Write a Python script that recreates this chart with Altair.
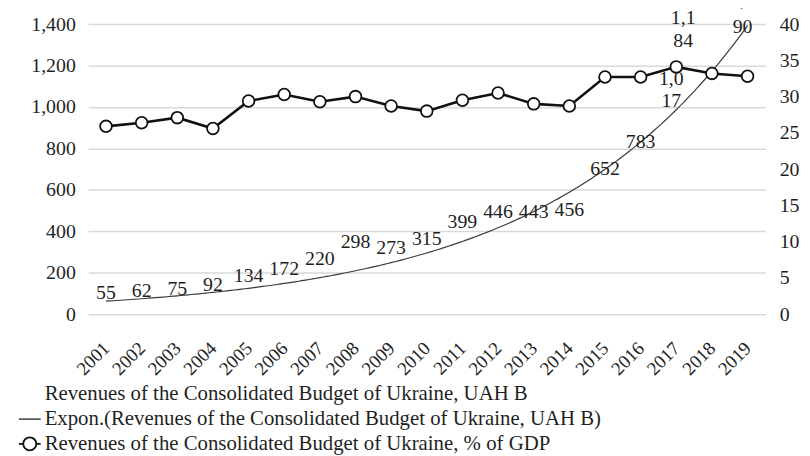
import altair as alt
import numpy as np
import pandas as pd

# ---- data ----
years = list(range(2001, 2020))
revenue_uah_b = [55, 62, 75, 92, 134, 172, 220, 298, 273, 315, 399, 446, 443, 456, 652, 783, 1017, 1184, 1290]
revenue_pct_gdp = [25.9, 26.4, 27.1, 25.6, 29.4, 30.3, 29.3, 30.0, 28.7, 28.0, 29.5, 30.5, 29.0, 28.7,
                   32.7, 32.7, 34.1, 33.2, 32.8]
left_ticks = [0, 200, 400, 600, 800, 1000, 1200, 1400]
right_ticks = [0, 5, 10, 15, 20, 25, 30, 35, 40]

S1 = "Revenues of the Consolidated Budget of Ukraine, UAH B"
S2 = "Expon.(Revenues of the Consolidated Budget of Ukraine, UAH B)"
S3 = "Revenues of the Consolidated Budget of Ukraine, % of GDP"

FONT = "Liberation Serif, Times New Roman, DejaVu Serif, serif"
TEXT = "#1f1f1f"


def wrap(v):
    s = f"{v:,}"
    return s if len(s) <= 3 else s[:3] + "\n" + s[3:]


df = pd.DataFrame({"year": years, "rev": revenue_uah_b, "pct": revenue_pct_gdp,
                   "label": [wrap(v) for v in revenue_uah_b]})
df_rev = df.assign(series=S1)
df_pct = df.assign(series=S3)

# exponential trend line (least squares on log values, as a spreadsheet does)
t = np.array(years, dtype=float) - 2000
b, a = np.polyfit(t, np.log(revenue_uah_b), 1)
tt = np.linspace(t[0], t[-1], 181)
df_trend = pd.DataFrame({"year": tt + 2000, "trend": np.exp(a + b * tt), "series": S2})

CIRCLE_LINE = "M-1,0L-0.6,0M0.6,0L1,0M0.6,0A0.6,0.6,0,1,1,-0.6,0A0.6,0.6,0,1,1,0.6,0"
LEG_X = -71
LEG_Y = 362
ROW = 25


def legend(i, **kw):
    return alt.Legend(title=None, orient="none", legendX=LEG_X, legendY=LEG_Y + i * ROW,
                      direction="vertical", labelFont=FONT, labelFontSize=21, labelColor=TEXT,
                      labelLimit=900, symbolSize=484, labelOffset=3, **kw)


def X():
    return alt.X("year:Q", scale=alt.Scale(domain=[2000.5, 2019.5], nice=False, zero=False),
                 axis=alt.Axis(values=years, format="d", labelAngle=-45, labelAlign="right",
                               labelBaseline="middle", labelPadding=31, labelOffset=0,
                               labelOverlap=False, labelFlush=False, grid=False, ticks=False,
                               domain=False, labelFont=FONT, labelFontSize=19, labelColor=TEXT,
                               title=None))


def YL(field):
    return alt.Y(f"{field}:Q", scale=alt.Scale(domain=[0, 1400], nice=False, zero=True),
                 axis=alt.Axis(values=left_ticks, format=",.0f", grid=True, gridColor="#d9d9d9",
                               gridWidth=1.5, ticks=False, domain=False, labelPadding=13,
                               labelFont=FONT, labelFontSize=20, labelColor=TEXT, title=None))


C_REV = alt.Color("series:N", scale=alt.Scale(domain=[S1], range=[TEXT]),
                  legend=legend(0, symbolOpacity=0, symbolType="circle"))
C_TREND = alt.Color("series:N", scale=alt.Scale(domain=[S2], range=["#3a3a3a"]),
                    legend=legend(1, symbolType="stroke", symbolStrokeWidth=1.5))
C_PCT = alt.Color("series:N", scale=alt.Scale(domain=[S3], range=["#111111"]),
                  legend=legend(2, symbolType=CIRCLE_LINE, symbolStrokeWidth=1.8,
                                symbolFillColor="white", symbolStrokeColor="#111111"))


def label_layer(expr, dx, dy, lh=23):
    return alt.Chart(df_rev).transform_filter(expr).mark_text(
        font=FONT, fontSize=20, baseline="bottom", align="center", lineBreak="\n",
        lineHeight=lh, dx=dx, dy=dy
    ).encode(x=X(), y=YL("rev"), text="label:N", color=C_REV)


trend = alt.Chart(df_trend).mark_line(strokeWidth=1.2).encode(
    x=X(), y=YL("trend"), color=C_TREND)

labels = alt.layer(
    label_layer("datum.year <= 2016", 0, 0),
    label_layer("datum.year == 2017", -5, -15),
    label_layer("datum.year == 2018", -29, -41),
    label_layer("datum.year == 2019", -5, -37, 27),
)

left = alt.layer(trend, labels).resolve_scale(color="independent")

YR = alt.Y("pct:Q", scale=alt.Scale(domain=[0, 40], nice=False),
           axis=alt.Axis(orient="right", values=right_ticks, grid=False, ticks=False, domain=False,
                         labelPadding=14, labelFont=FONT, labelFontSize=20, labelColor=TEXT, title=None))

pct_line = alt.Chart(df_pct).mark_line(strokeWidth=2.6).encode(x=X(), y=YR, color=C_PCT)
pct_pts = alt.Chart(df_pct).mark_point(filled=True, fill="white", stroke="#111111", strokeWidth=1.8,
                                        size=140, opacity=1, shape="circle").encode(x=X(), y=YR)

right = alt.layer(pct_line, pct_pts)

chart = alt.layer(left, right).resolve_scale(y="independent", color="independent").properties(
    width=684, height=293,
    padding={"left": 81, "top": 14, "right": 37, "bottom": 141},
    autosize=alt.AutoSizeParams(type="none"),
    background="white",
).configure_view(stroke=None)

chart.save("out.html", embed_options={"renderer": "svg", "actions": False})
